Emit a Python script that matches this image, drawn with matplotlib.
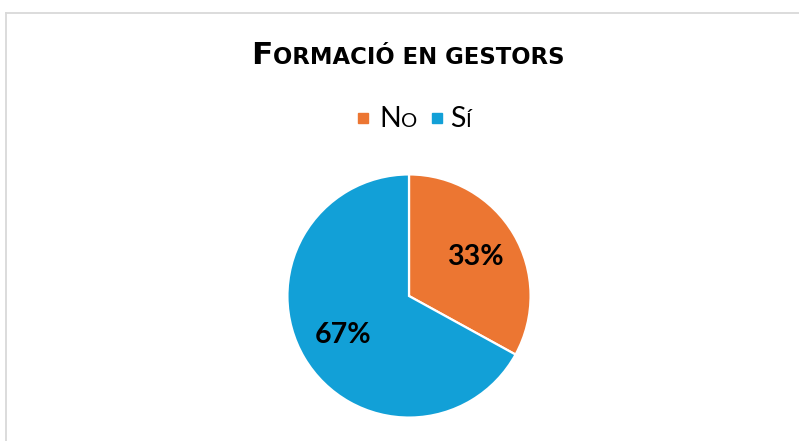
import matplotlib
matplotlib.use("Agg")
import matplotlib.pyplot as plt
from matplotlib.lines import Line2D
from matplotlib.patches import Rectangle

# data
labels = ["No", "Sí"]
values = [33, 67]
colors = ["#EC7632", "#12A0D7"]

W, H = 799, 441
FONT = "Lato"

fig = plt.figure(figsize=(W / 100, H / 100), dpi=100)
fig.patch.set_facecolor("white")

# chart border (only top and left edges are visible)
fig.add_artist(Line2D([5.5 / W, 1], [1 - 12.5 / H] * 2, color="#D9D9D9", lw=1.3))
fig.add_artist(Line2D([5.5 / W] * 2, [0, 1 - 12.5 / H], color="#D9D9D9", lw=1.3))


def small_caps(x0, ybase, word_parts, weight, family, center=False):
    # word_parts: list of (text, size) drawn one after another on a baseline
    texts = [fig.text(0, 1 - ybase / H, s, fontsize=fs, fontweight=weight,
                      family=family, va="baseline", ha="left", color="black")
             for s, fs in word_parts]
    r = fig.canvas.get_renderer()
    widths = [t.get_window_extent(r).width for t in texts]
    x = x0 - sum(widths) / 2 if center else x0
    for t, w in zip(texts, widths):
        t.set_x(x / W)
        x += w


# title in small caps
small_caps(408, 64, [("F", 22.5), ("ORMACIÓ EN GESTORS", 16.4)], "bold",
           "DejaVu Sans", center=True)

# legend
small_caps(379, 127, [("N", 20.5), ("O", 14.5)], "normal", FONT)
small_caps(450, 127, [("S", 20.5), ("Í", 14.5)], "normal", FONT)
for sx, c in zip([358, 432], colors):
    fig.add_artist(Rectangle((sx / W, 1 - 123 / H), 10 / W, 10 / H, color=c,
                             transform=fig.transFigure))

# pie
cx, cy, rad = 409, 296, 124
ax = fig.add_axes([(cx - rad) / W, 1 - (cy + rad) / H, 2 * rad / W, 2 * rad / H])
wedges, _, autotexts = ax.pie(values, colors=colors, startangle=90, counterclock=False,
                              autopct="%1.0f%%", pctdistance=0.63,
                              wedgeprops=dict(edgecolor="white", linewidth=1.6))
for t in autotexts:
    t.set_fontsize(20.5)
    t.set_fontweight("bold")
    t.set_family(FONT)
    t.set_color("black")
ax.set_xlim(-1.02, 1.02)
ax.set_ylim(-1.02, 1.02)
ax.axis("off")

fig.savefig("out.png", dpi=100)
